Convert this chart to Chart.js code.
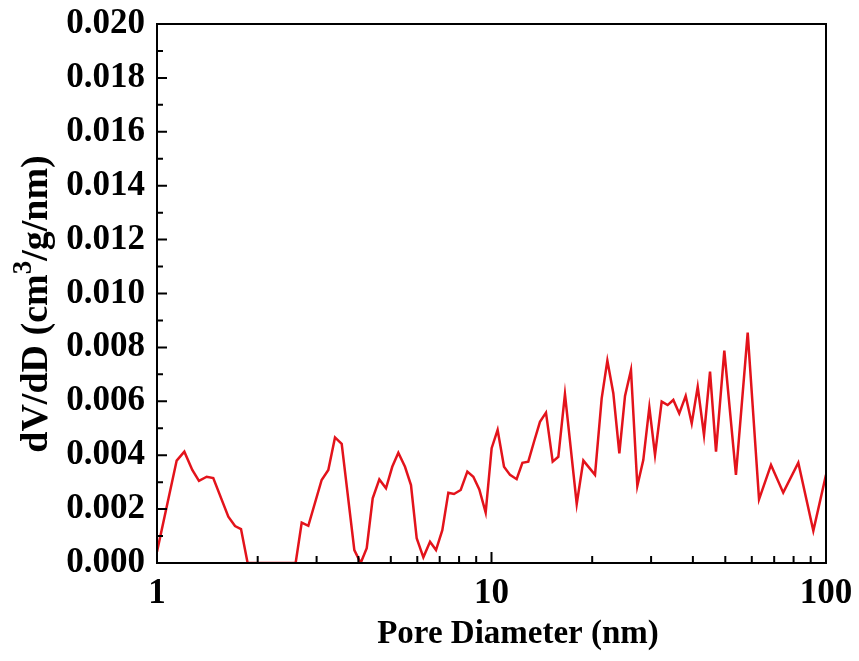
<!DOCTYPE html>
<html>
<head>
<meta charset="utf-8">
<script src="https://cdn.jsdelivr.net/npm/chart.js@4.4.1/dist/chart.umd.min.js"></script>
<style>
  html, body { margin: 0; padding: 0; background: #fff; }
  #wrap { width: 859px; height: 661px; }
</style>
</head>
<body>
<div id="wrap"><canvas id="psd"></canvas></div>
<script>
'use strict';

// ─── DATA ────────────────────────────────────────────────────────────────────

const poreDiameter = [
  1.00, 1.145, 1.207, 1.275, 1.335, 1.408, 1.473, 1.634, 1.711, 1.783,
  1.866, 2.00, 2.15, 2.30, 2.45, 2.597, 2.708, 2.834, 3.106, 3.252,
  3.405, 3.566, 3.890, 4.064, 4.236, 4.414, 4.62, 4.837, 5.05, 5.266,
  5.513, 5.745, 5.975, 6.256, 6.55, 6.825, 7.128, 7.43, 7.725, 8.09,
  8.468, 8.824, 9.195, 9.607, 10.01, 10.43, 10.9, 11.36, 11.89, 12.37,
  12.88, 13.40, 13.96, 14.55, 15.24, 15.84, 16.58, 17.98, 18.82, 20.39,
  21.35, 22.2, 23.13, 24.11, 25.07, 26.12, 27.29, 28.43, 29.64, 30.82,
  32.27, 33.62, 34.96, 36.42, 38.07, 39.68, 41.35, 43.18, 45.01, 46.9,
  49.66, 53.8, 58.33, 63.07, 68.48, 74.5, 82.65, 91.65, 100.0
];

const dvdd = [
  0.00042, 0.00380, 0.00413, 0.00345, 0.00305, 0.00320, 0.00315, 0.00172, 0.00137, 0.00126,
  0.0, 0.0, 0.0, 0.0, 0.0, 0.0, 0.00150, 0.00138, 0.00308, 0.00345,
  0.00466, 0.00442, 0.00048, 0.0, 0.00055, 0.00240, 0.00310, 0.00277, 0.00357, 0.00409,
  0.00357, 0.00289, 0.00092, 0.00021, 0.00079, 0.00048, 0.00122, 0.00261, 0.00256, 0.00271,
  0.00339, 0.00320, 0.00273, 0.00187, 0.00426, 0.00494, 0.00357, 0.00327, 0.00311, 0.00372,
  0.00376, 0.00450, 0.00524, 0.00558, 0.00376, 0.00394, 0.00627, 0.00219, 0.00380, 0.00327,
  0.00611, 0.00751, 0.00630, 0.00407, 0.00620, 0.00716, 0.00286, 0.00382, 0.00578, 0.00401,
  0.00599, 0.00586, 0.00605, 0.00555, 0.00620, 0.00518, 0.00654, 0.00475, 0.00710, 0.00413,
  0.00788, 0.00327, 0.00855, 0.00236, 0.00364, 0.00261, 0.00372, 0.00120, 0.00327
];

const xMajorTicks = [1, 10, 100];
const xMinorTicks = [2, 3, 4, 5, 6, 7, 8, 9, 20, 30, 40, 50, 60, 70, 80, 90];
const yMajorTicks = [0, 0.002, 0.004, 0.006, 0.008, 0.010, 0.012, 0.014, 0.016, 0.018, 0.020];
const yMinorTicks = [0.001, 0.003, 0.005, 0.007, 0.009, 0.011, 0.013, 0.015, 0.017, 0.019];

const xTitle = 'Pore Diameter (nm)';

// ─── LAYOUT ──────────────────────────────────────────────────────────────────

const AREA = { left: 157, top: 24, right: 826, bottom: 563 };
const FONT = 'Liberation Serif';

// frame + inward ticks, Origin style
const framePlugin = {
  id: 'frame',
  afterDraw(chart) {
    const { ctx, chartArea: a, scales: { x, y } } = chart;
    ctx.save();
    ctx.strokeStyle = '#000';
    ctx.lineWidth = 2;
    ctx.strokeRect(a.left, a.top, a.right - a.left, a.bottom - a.top);

    ctx.beginPath();
    xMajorTicks.forEach(v => {
      const px = x.getPixelForValue(v);
      ctx.moveTo(px, a.bottom); ctx.lineTo(px, a.bottom - 11);
    });
    xMinorTicks.forEach(v => {
      const px = x.getPixelForValue(v);
      ctx.moveTo(px, a.bottom); ctx.lineTo(px, a.bottom - 7);
    });
    yMajorTicks.forEach(v => {
      const py = y.getPixelForValue(v);
      ctx.moveTo(a.left, py); ctx.lineTo(a.left + 10, py);
    });
    yMinorTicks.forEach(v => {
      const py = y.getPixelForValue(v);
      ctx.moveTo(a.left, py); ctx.lineTo(a.left + 6, py);
    });
    ctx.stroke();
    ctx.restore();
  },
};

// axis titles (y one has a real superscript "3")
const titlesPlugin = {
  id: 'titles',
  afterDraw(chart) {
    const { ctx } = chart;
    ctx.save();
    ctx.fillStyle = '#000';
    ctx.textBaseline = 'middle';

    ctx.textAlign = 'center';
    ctx.font = `bold 33px "${FONT}"`;
    ctx.fillText(xTitle, 518, 634);

    ctx.textAlign = 'left';
    const size = 38, sup = 27;
    const parts = [
      { t: 'dV/dD (cm', f: size, dy: 0 },
      { t: '3', f: sup, dy: -13 },
      { t: '/g/nm)', f: size, dy: 0 },
    ];
    let total = 0;
    parts.forEach(p => {
      ctx.font = `bold ${p.f}px "${FONT}"`;
      p.w = ctx.measureText(p.t).width;
      total += p.w;
    });
    ctx.translate(37, 304);
    ctx.rotate(-Math.PI / 2);
    let cx = -total / 2;
    parts.forEach(p => {
      ctx.font = `bold ${p.f}px "${FONT}"`;
      ctx.fillText(p.t, cx, p.dy);
      cx += p.w;
    });
    ctx.restore();
  },
};

// ─── CHART ───────────────────────────────────────────────────────────────────

new Chart(document.getElementById('psd'), {
  type: 'line',
  data: {
    datasets: [{
      data: poreDiameter.map((d, i) => ({ x: d, y: dvdd[i] })),
      borderColor: '#e3131b',
      borderWidth: 2.5,
      pointRadius: 0,
      tension: 0,
      fill: false,
    }],
  },
  options: {
    responsive: true,
    maintainAspectRatio: false,
    animation: false,
    events: [],
    layout: { padding: { left: 0, top: AREA.top, right: 859 - AREA.right, bottom: 0 } },
    plugins: { legend: { display: false }, tooltip: { enabled: false } },
    scales: {
      x: {
        type: 'logarithmic',
        min: 1,
        max: 100,
        afterBuildTicks: s => { s.ticks = xMajorTicks.map(v => ({ value: v })); },
        afterFit: s => {
          s.height = 661 - AREA.bottom;
          s.paddingLeft = 0;
          s.paddingRight = 0;
        },
        grid: { display: false, drawTicks: false },
        border: { display: false },
        ticks: {
          color: '#000',
          padding: 10,
          maxRotation: 0,
          autoSkip: false,
          font: { family: FONT, size: 35, weight: 'bold' },
          callback: v => String(v),
        },
      },
      y: {
        min: 0,
        max: 0.02,
        afterBuildTicks: s => { s.ticks = yMajorTicks.map(v => ({ value: v })); },
        afterFit: s => {
          s.width = AREA.left;
          s.paddingTop = 0;
          s.paddingBottom = 0;
        },
        grid: { display: false, drawTicks: false },
        border: { display: false },
        ticks: {
          color: '#000',
          padding: 12,
          autoSkip: false,
          font: { family: FONT, size: 35, weight: 'bold' },
          callback: v => v.toFixed(3),
        },
      },
    },
  },
  plugins: [framePlugin, titlesPlugin],
});
</script>
</body>
</html>
